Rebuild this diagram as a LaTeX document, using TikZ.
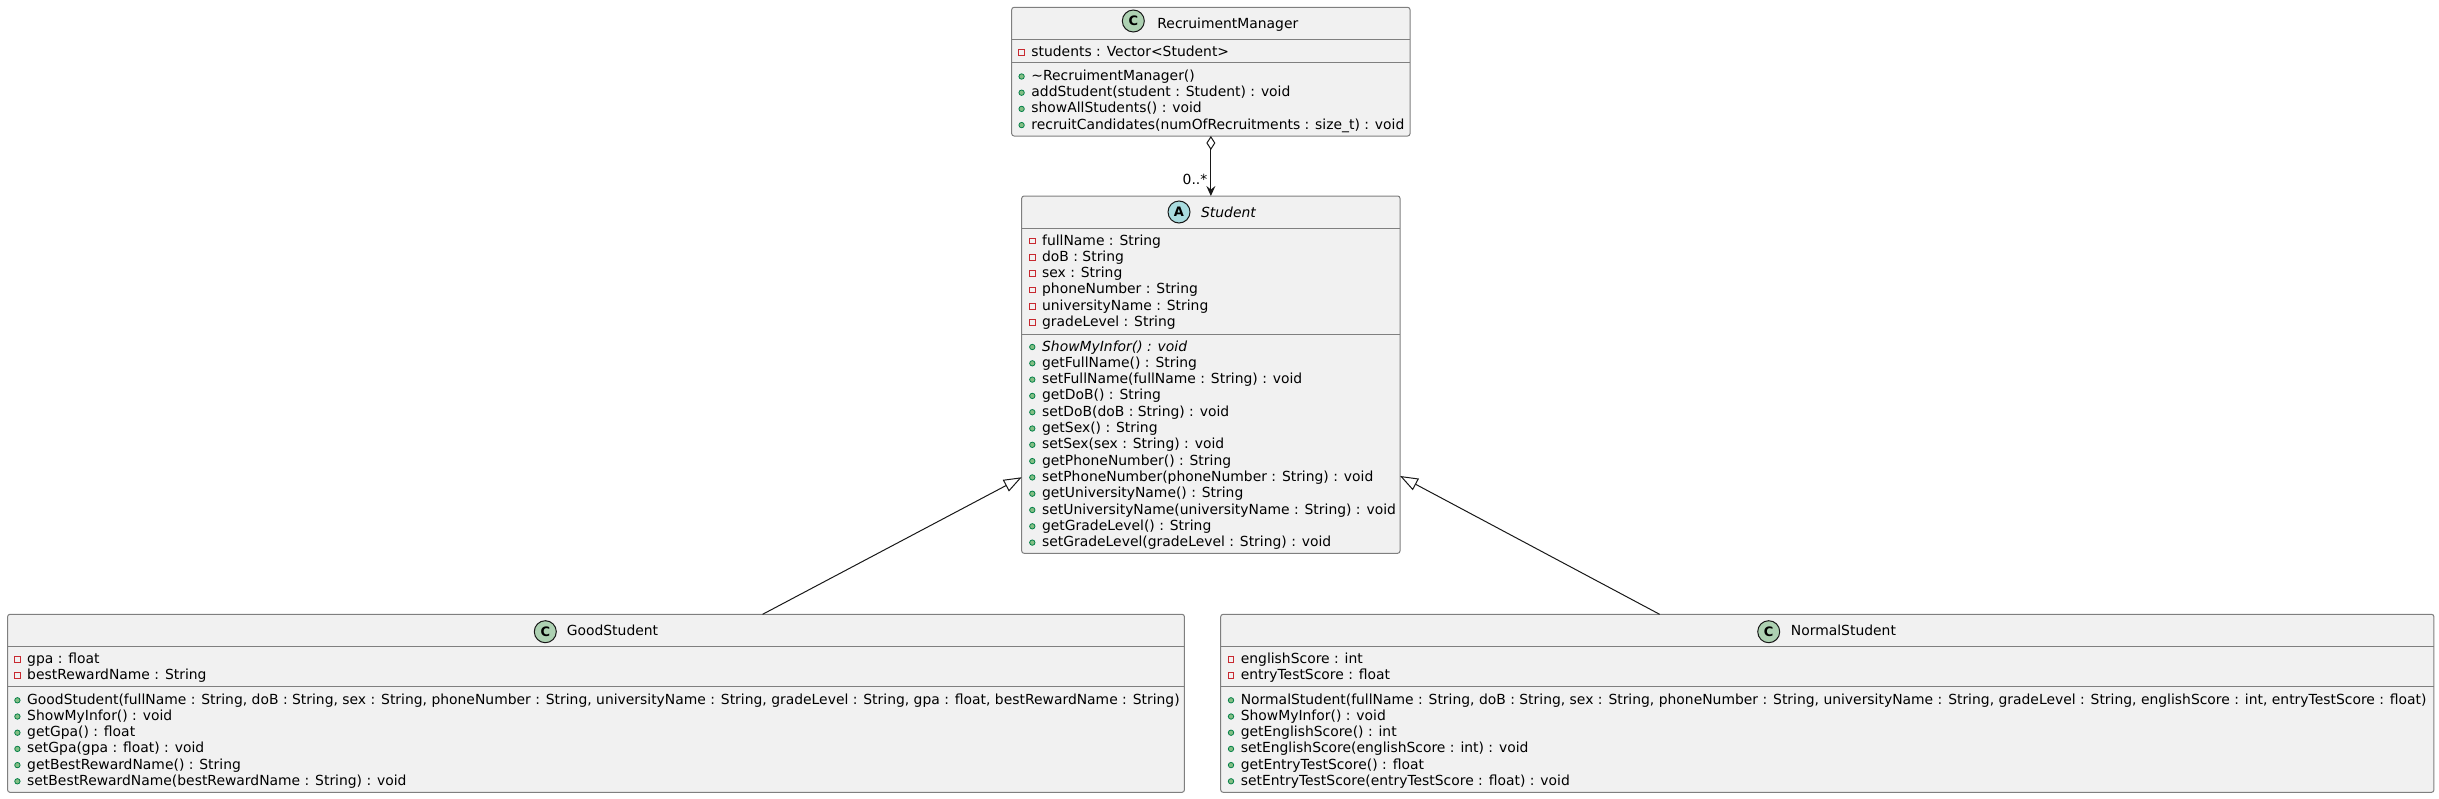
\documentclass[tikz,border=0pt]{standalone}
\usepackage{fontspec}
\setmainfont{DejaVu Sans}
\usetikzlibrary{arrows.meta}
\definecolor{boxfill}{HTML}{F1F1F1}
\definecolor{boxline}{HTML}{7F7F7F}
\definecolor{conline}{HTML}{181818}
\definecolor{privred}{HTML}{C82930}
\definecolor{pubgreen}{HTML}{038048}
\definecolor{pubfill}{HTML}{84BE84}
\definecolor{cfill}{HTML}{ADD1B2}
\definecolor{afill}{HTML}{A9DCDF}
\tikzset{
  umlbox/.style={draw=boxline, fill=boxfill, line width=0.5pt, rounded corners=1.2pt, inner sep=0pt, outer sep=0pt},
  sepline/.style={draw=boxline, line width=0.5pt},
  txt/.style={anchor=base west, inner sep=0pt, font=\fontsize{6.95}{8}\selectfont},
  titletxt/.style={anchor=base west, inner sep=0pt, font=\fontsize{6.95}{8}\selectfont},
  privmark/.style={rectangle, draw=privred, line width=0.5pt, minimum size=2.9pt, inner sep=0pt},
  pubmark/.style={circle, draw=pubgreen, fill=pubfill, line width=0.4pt, minimum size=2.7pt, inner sep=0pt},
  classmark/.style={circle, draw=conline, line width=0.5pt, minimum size=11pt, inner sep=0pt, font=\bfseries\fontsize{6.5}{7}\selectfont},
  conn/.style={draw=conline, line width=0.5pt},
  agg/.style={conn, {Diamond[open,length=7pt,width=4.5pt]}-{Stealth[length=5pt,width=4.5pt,inset=1.8pt]}},
  inh/.style={conn, -{Triangle[open,length=9pt,width=6.5pt]}},
}
\newcommand\prow[5][txt]{\node[#1] (#2) at (#3,#4) {#5}; \node[privmark] (#2-m) at (#3-9.4,#4-4) {};}
\newcommand\mrow[5][txt]{\node[#1] (#2) at (#3,#4) {#5}; \node[pubmark] (#2-m) at (#3-9.4,#4-4) {};}
\begin{document}
\begin{tikzpicture}[x=0.5pt,y=-0.5pt]
\useasboundingbox (0,0) rectangle (2439,798);
% ---------- RecruimentManager ----------
\node[umlbox, minimum width=199.15pt, minimum height=64.35pt] (rm) at (1210.85,71.65) {};
\draw[sepline] (1011.7,39.3) -- (1410,39.3);
\draw[sepline] (1011.7,62.7) -- (1410,62.7);
\node[classmark, fill=cfill] (rm-c) at (1133.3,21) {C};
\node[titletxt] (rm-t) at (1157,28.3) {RecruimentManager};
\prow{rm-a1}{1031}{56.7}{students : Vector<Student>}
\mrow{rm-o1}{1031}{80.5}{\textasciitilde RecruimentManager()}
\mrow{rm-o2}{1031}{96.7}{addStudent(student : Student) : void}
\mrow{rm-o3}{1031}{112.9}{showAllStudents() : void}
\mrow{rm-o4}{1031}{129.1}{recruitCandidates(numOfRecruitments : size\_t) : void}
% ---------- Student ----------
\node[umlbox, minimum width=189.15pt, minimum height=178.65pt] (st) at (1210.85,374.65) {};
\draw[sepline] (1021.7,228.3) -- (1400,228.3);
\draw[sepline] (1021.7,334.3) -- (1400,334.3);
\node[classmark, fill=afill] (st-c) at (1179,212) {A};
\node[titletxt, font=\itshape\fontsize{6.95}{8}\selectfont] (st-t) at (1200.7,217.3) {Student};
\prow{st-a1}{1041.7}{245}{fullName : String}
\prow{st-a2}{1041.7}{261.3}{doB : String}
\prow{st-a3}{1041.7}{277.6}{sex : String}
\prow{st-a4}{1041.7}{293.9}{phoneNumber : String}
\prow{st-a5}{1041.7}{310.2}{universityName : String}
\prow{st-a6}{1041.7}{326.5}{gradeLevel : String}
\mrow{st-o1}{1041.7}{351}{\textit{ShowMyInfor() : void}}
\mrow{st-o2}{1041.7}{367.3}{getFullName() : String}
\mrow{st-o3}{1041.7}{383.6}{setFullName(fullName : String) : void}
\mrow{st-o4}{1041.7}{399.9}{getDoB() : String}
\mrow{st-o5}{1041.7}{416.2}{setDoB(doB : String) : void}
\mrow{st-o6}{1041.7}{432.5}{getSex() : String}
\mrow{st-o7}{1041.7}{448.8}{setSex(sex : String) : void}
\mrow{st-o8}{1041.7}{465.1}{getPhoneNumber() : String}
\mrow{st-o9}{1041.7}{481.4}{setPhoneNumber(phoneNumber : String) : void}
\mrow{st-o10}{1041.7}{497.7}{getUniversityName() : String}
\mrow{st-o11}{1041.7}{514}{setUniversityName(universityName : String) : void}
\mrow{st-o12}{1041.7}{530.3}{getGradeLevel() : String}
\mrow{st-o13}{1041.7}{546.6}{setGradeLevel(gradeLevel : String) : void}
% ---------- GoodStudent ----------
\node[umlbox, minimum width=588.4pt, minimum height=89pt] (gs) at (596,703.3) {};
\draw[sepline] (7.65,646) -- (1184.4,646);
\draw[sepline] (7.65,686.5) -- (1184.4,686.5);
\node[classmark, fill=cfill] (gs-c) at (545.3,631.7) {C};
\node[titletxt] (gs-t) at (566.4,635) {GoodStudent};
\prow{gs-a1}{26.8}{663.3}{gpa : float}
\prow{gs-a2}{26.8}{679.3}{bestRewardName : String}
\mrow{gs-o1}{26.8}{704.3}{GoodStudent(fullName : String, doB : String, sex : String, phoneNumber : String, universityName : String, gradeLevel : String, gpa : float, bestRewardName : String)}
\mrow{gs-o2}{26.8}{720.5}{ShowMyInfor() : void}
\mrow{gs-o3}{26.8}{736.7}{getGpa() : float}
\mrow{gs-o4}{26.8}{752.9}{setGpa(gpa : float) : void}
\mrow{gs-o5}{26.8}{769.1}{getBestRewardName() : String}
\mrow{gs-o6}{26.8}{785.3}{setBestRewardName(bestRewardName : String) : void}
% ---------- NormalStudent ----------
\node[umlbox, minimum width=606.6pt, minimum height=89pt] (ns) at (1827.3,703.3) {};
\draw[sepline] (1220.7,646) -- (2433.9,646);
\draw[sepline] (1220.7,686.5) -- (2433.9,686.5);
\node[classmark, fill=cfill] (ns-c) at (1768.7,631.7) {C};
\node[titletxt] (ns-t) at (1790.5,635) {NormalStudent};
\prow{ns-a1}{1240.4}{663.3}{englishScore : int}
\prow{ns-a2}{1240.4}{679.3}{entryTestScore : float}
\mrow{ns-o1}{1240.4}{704.3}{NormalStudent(fullName : String, doB : String, sex : String, phoneNumber : String, universityName : String, gradeLevel : String, englishScore : int, entryTestScore : float)}
\mrow{ns-o2}{1240.4}{720.5}{ShowMyInfor() : void}
\mrow{ns-o3}{1240.4}{736.7}{getEnglishScore() : int}
\mrow{ns-o4}{1240.4}{752.9}{setEnglishScore(englishScore : int) : void}
\mrow{ns-o5}{1240.4}{769.1}{getEntryTestScore() : float}
\mrow{ns-o6}{1240.4}{785.3}{setEntryTestScore(entryTestScore : float) : void}
% ---------- connectors ----------
\draw[agg] (rm.south) -- node[pos=0.73, anchor=east, inner sep=0pt, xshift=-1.5pt, font=\fontsize{6.95}{8}\selectfont] (mult) {0..*} (st.north);
\draw[inh] ([shift={(166.6,0)}]gs.north) -- ([shift={(0,102.6)}]st.west);
\draw[inh] ([shift={(-167.7,0)}]ns.north) -- ([shift={(0,101.3)}]st.east);
\end{tikzpicture}
\end{document}
